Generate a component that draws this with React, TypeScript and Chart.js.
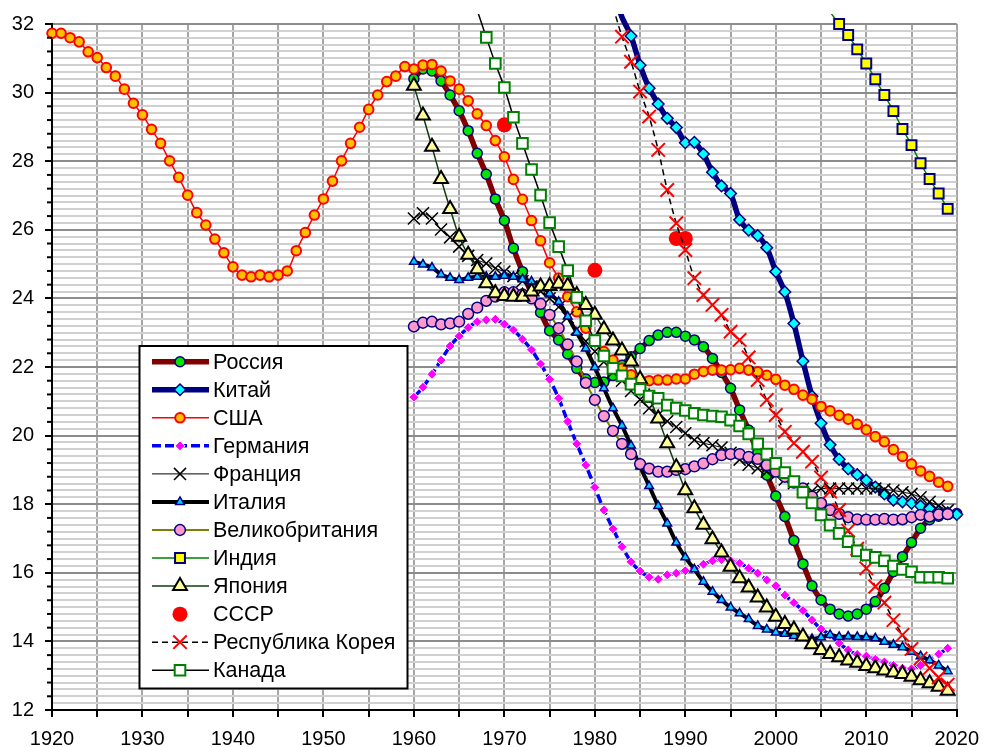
import React, { useEffect, useRef } from 'react';
import { Chart, registerables } from 'chart.js';
import { drawPoint } from 'chart.js/helpers';

Chart.register(...registerables);

// ---------------- data ----------------
const usaStart = 1920;
const usa = [
  31.73, 31.73, 31.6, 31.48, 31.19, 31.02, 30.73, 30.48, 30.1, 29.69,
  29.35, 28.93, 28.52, 28.01, 27.53, 27.01, 26.5, 26.14, 25.73, 25.33,
  24.92, 24.68, 24.63, 24.68, 24.63, 24.68, 24.8, 25.39, 25.92, 26.43,
  26.9, 27.42, 28.01, 28.52, 28.99, 29.51, 29.93, 30.32, 30.48, 30.76,
  30.69, 30.8, 30.82, 30.63, 30.34, 30.1, 29.76, 29.38, 29.04, 28.6,
  28.13, 27.47, 26.89, 26.27, 25.68, 25.04, 24.59, 24.05, 23.61, 23.13,
  22.75, 22.45, 22.2, 21.96, 21.77, 21.62, 21.6, 21.62, 21.62, 21.65,
  21.65, 21.79, 21.87, 21.91, 21.91, 21.92, 21.96, 21.91, 21.86, 21.76,
  21.64, 21.47, 21.35, 21.18, 21.06, 20.85, 20.72, 20.59, 20.48, 20.33,
  20.17, 19.97, 19.82, 19.59, 19.39, 19.17, 18.97, 18.81, 18.64, 18.52,
];

const russiaStart = 1960;
const russia = [
  30.4, 30.69, 30.63, 30.34, 29.93, 29.47, 28.89, 28.23, 27.62, 26.9,
  26.27, 25.46, 24.78, 24.15, 23.59, 23.06, 22.79, 22.38, 21.96, 21.65,
  21.55, 21.56, 21.75, 22.05, 22.3, 22.54, 22.77, 22.93, 23.01, 23.01,
  22.9, 22.79, 22.59, 22.25, 21.84, 21.38, 20.75, 20.16, 19.5, 18.85,
  18.24, 17.64, 16.94, 16.26, 15.62, 15.21, 14.94, 14.8, 14.74, 14.8,
  14.94, 15.16, 15.55, 16.03, 16.47, 16.88, 17.3, 17.55, 17.65, 17.7,
  17.73,
];

const chinaStart = 1982;
const china = [
  33.0, 32.2, 31.65, 30.8, 30.13, 29.67, 29.25, 28.98,
  28.54, 28.55, 28.21, 27.68, 27.28, 27.06, 26.29, 25.99, 25.83, 25.48,
  24.78, 24.19, 23.27, 22.17, 21.15, 20.36, 19.73, 19.31, 19.03, 18.86,
  18.7, 18.5, 18.3, 18.12, 18.07, 18.03, 17.95, 17.87, 17.8, 17.75,
  17.7,
];

const germanyStart = 1960;
const germany = [
  21.12, 21.41, 21.79, 22.2, 22.61, 22.9, 23.15, 23.32, 23.37, 23.39,
  23.25, 23.08, 22.81, 22.5, 22.09, 21.64, 21.09, 20.41, 19.76, 19.14,
  18.49, 17.83, 17.28, 16.76, 16.32, 16.05, 15.87, 15.81, 15.94, 15.99,
  16.06, 16.13, 16.25, 16.35, 16.39, 16.35, 16.28, 16.13, 15.99, 15.79,
  15.62, 15.35, 15.13, 14.9, 14.62, 14.36, 14.19, 13.95, 13.75, 13.62,
  13.57, 13.48, 13.4, 13.3, 13.22, 13.2, 13.3, 13.45, 13.63, 13.8,
];

const franceStart = 1960;
const france = [
  26.33, 26.48, 26.33, 26.01, 25.78, 25.51, 25.24, 25.12, 25.02, 24.88,
  24.78, 24.65, 24.5, 24.35, 24.2, 24.0, 23.75, 23.45, 23.1, 22.75,
  22.45, 22.15, 21.85, 21.6, 21.3, 21.05, 20.8, 20.6, 20.42, 20.25,
  20.07, 19.87, 19.78, 19.72, 19.65, 19.5, 19.3, 19.15, 19.05, 18.95,
  18.85, 18.72, 18.61, 18.45, 18.38, 18.45, 18.46, 18.46, 18.46, 18.46,
  18.46, 18.46, 18.43, 18.4, 18.35, 18.3, 18.2, 18.07, 17.95, 17.82,
];

const italyStart = 1960;
const italy = [
  25.07, 24.99, 24.9, 24.7, 24.6, 24.54, 24.6, 24.63, 24.63, 24.63,
  24.66, 24.63, 24.56, 24.49, 24.39, 24.14, 23.9, 23.47, 23.0, 22.54,
  21.99, 21.38, 20.8, 20.29, 19.71, 19.1, 18.53, 17.95, 17.44, 16.88,
  16.45, 16.1, 15.74, 15.45, 15.21, 14.99, 14.82, 14.65, 14.45, 14.35,
  14.26, 14.22, 14.16, 14.12, 14.07, 14.12, 14.19, 14.13, 14.14, 14.13,
  14.12, 14.09, 13.99, 13.9, 13.83, 13.7, 13.57, 13.45, 13.3, 13.13,
];

const ukStart = 1960;
const uk = [
  23.18, 23.29, 23.32, 23.24, 23.27, 23.32, 23.55, 23.73, 23.93, 24.05,
  24.18, 24.18, 24.12, 24.0, 23.84, 23.52, 23.13, 22.66, 22.16, 21.54,
  21.04, 20.57, 20.14, 19.76, 19.46, 19.17, 19.04, 18.95, 18.95, 19.0,
  19.02, 19.1, 19.19, 19.31, 19.43, 19.46, 19.46, 19.38, 19.32, 19.14,
  18.95, 18.8, 18.63, 18.46, 18.22, 18.03, 17.83, 17.72, 17.62, 17.56,
  17.55, 17.55, 17.57, 17.55, 17.56, 17.62, 17.69, 17.64, 17.7, 17.71,
];

const indiaStart = 2005;
const india = [
  32.7, 32.35, 32.0, 31.68, 31.26, 30.85, 30.39, 29.93, 29.46, 28.94,
  28.47, 27.94, 27.48, 27.06, 26.61,
];

const japanStart = 1960;
const japan = [
  30.2, 29.33, 28.42, 27.48, 26.61, 25.8, 25.27, 24.85, 24.44, 24.15,
  24.07, 24.05, 24.05, 24.2, 24.35, 24.36, 24.43, 24.37, 24.1, 23.81,
  23.52, 23.1, 22.77, 22.48, 22.16, 21.64, 21.1, 20.5, 19.78, 19.08,
  18.41, 17.88, 17.4, 16.98, 16.59, 16.18, 15.84, 15.57, 15.28, 14.99,
  14.72, 14.51, 14.35, 14.14, 13.92, 13.75, 13.63, 13.54, 13.44, 13.38,
  13.28, 13.22, 13.15, 13.09, 13.05, 12.97, 12.87, 12.78, 12.68, 12.56,
];

const ussrYears = [1970, 1980, 1989, 1990];
const ussr = [29.06, 24.82, 25.75, 25.75];

const koreaStart = 1982;
const korea = [
  32.5, 31.63, 30.9, 30.03, 29.3, 28.33, 27.16, 26.19, 25.41, 24.59,
  24.1, 23.81, 23.52, 23.03, 22.79, 22.28, 21.62, 21.04, 20.6, 20.11,
  19.78, 19.53, 19.24, 18.78, 18.37, 17.83, 17.23, 16.7, 16.13, 15.6,
  15.13, 14.62, 14.19, 13.78, 13.5, 13.22, 12.95, 12.74,
];

const canadaStart = 1966;
const canada = [
  33.2, 32.4, 31.61, 30.85, 30.15, 29.28, 28.52, 27.76, 27.01, 26.21,
  25.51, 24.81, 24.03, 23.35, 22.77, 22.32, 21.96, 21.74, 21.5, 21.35,
  21.15, 21.09, 20.89, 20.8, 20.73, 20.65, 20.6, 20.57, 20.55, 20.45,
  20.28, 20.05, 19.76, 19.46, 19.19, 18.92, 18.66, 18.35, 18.04, 17.69,
  17.39, 17.15, 16.91, 16.64, 16.52, 16.45, 16.35, 16.2, 16.1, 16.03,
  15.87, 15.87, 15.87, 15.84,
];

const xMin = 1920;
const xMax = 2020;
const yMin = 12;
const yMax = 32;

// ---------------- helpers ----------------
const seq = (start: number, vals: number[]) => vals.map((v, i) => ({ x: start + i, y: v }));
const pairs = (xs: number[], vals: number[]) => vals.map((v, i) => ({ x: xs[i], y: v }));

type Series = {
  label: string;
  data: { x: number; y: number }[];
  line: string;
  lw: number;
  dash?: number[];
  style: string;
  r: number;
  fill: string;
  stroke: string;
  bw: number;
  noLine?: boolean;
};

const FONT = '"Liberation Sans", Arial, sans-serif';

const series: Series[] = [
  { label: 'Россия', data: seq(russiaStart, russia), line: '#800000', lw: 5.5, style: 'circle', r: 5, fill: '#00e600', stroke: '#000080', bw: 1.5 },
  { label: 'Китай', data: seq(chinaStart, china), line: '#000080', lw: 5.5, style: 'rectRot', r: 5.8, fill: '#00ffff', stroke: '#000080', bw: 1.5 },
  { label: 'США', data: seq(usaStart, usa), line: '#ff0000', lw: 1.5, style: 'circle', r: 4.8, fill: '#ffc000', stroke: '#ff0000', bw: 2 },
  { label: 'Германия', data: seq(germanyStart, germany), line: '#0000ff', lw: 3.5, dash: [9, 4], style: 'rectRot', r: 5, fill: '#ff00ff', stroke: '#ffffff', bw: 1 },
  { label: 'Франция', data: seq(franceStart, france), line: '#000000', lw: 1, style: 'crossRot', r: 8.5, fill: '#000000', stroke: '#000000', bw: 1.5 },
  { label: 'Италия', data: seq(italyStart, italy), line: '#000000', lw: 4, style: 'triangle', r: 5, fill: '#00ccff', stroke: '#000080', bw: 1.5 },
  { label: 'Великобритания', data: seq(ukStart, uk), line: '#808000', lw: 2, style: 'circle', r: 5.4, fill: '#ff99cc', stroke: '#000080', bw: 1.5 },
  { label: 'Индия', data: seq(indiaStart, india), line: '#008000', lw: 1.5, style: 'rect', r: 7, fill: '#ffff00', stroke: '#000080', bw: 2 },
  { label: 'Япония', data: seq(japanStart, japan), line: '#0d3d0d', lw: 1.5, style: 'triangle', r: 8, fill: '#ffff99', stroke: '#000000', bw: 2 },
  { label: 'СССР', data: pairs(ussrYears, ussr), line: '#ff0000', lw: 0, style: 'circle', r: 7.5, fill: '#ff0000', stroke: '#ff0000', bw: 0, noLine: true },
  { label: 'Республика Корея', data: seq(koreaStart, korea), line: '#000000', lw: 1.5, dash: [6, 4], style: 'crossRot', r: 9.5, fill: '#ff0000', stroke: '#ff0000', bw: 2 },
  { label: 'Канада', data: seq(canadaStart, canada), line: '#000000', lw: 1.5, style: 'rect', r: 7.5, fill: '#ffffff', stroke: '#008000', bw: 2 },
];

const isMult = (v: number, step: number) => Math.abs(v / step - Math.round(v / step)) < 1e-6;

// legend box (pixels)
const LEG = { left: 139.5, top: 346, right: 407.5, bottom: 688.5, row0: 361.7, step: 28.05, lineL: 152, lineR: 209, mark: 180, text: 213 };

const legendPlugin = {
  id: 'boxLegend',
  afterDraw(chart: any) {
    const ctx: CanvasRenderingContext2D = chart.ctx;
    ctx.save();
    ctx.fillStyle = '#ffffff';
    ctx.fillRect(LEG.left, LEG.top, LEG.right - LEG.left, LEG.bottom - LEG.top);
    ctx.strokeStyle = '#000000';
    ctx.lineWidth = 2;
    ctx.strokeRect(LEG.left, LEG.top, LEG.right - LEG.left, LEG.bottom - LEG.top);
    series.forEach((s, i) => {
      const y = LEG.row0 + i * LEG.step;
      if (!s.noLine) {
        ctx.setLineDash(s.dash || []);
        ctx.strokeStyle = s.line;
        ctx.lineWidth = s.lw;
        ctx.beginPath();
        ctx.moveTo(LEG.lineL, y);
        ctx.lineTo(LEG.lineR, y);
        ctx.stroke();
      }
      ctx.setLineDash([]);
      ctx.fillStyle = s.fill;
      ctx.strokeStyle = s.stroke;
      ctx.lineWidth = s.bw;
      drawPoint(ctx, { pointStyle: s.style as any, rotation: 0, radius: s.r, borderWidth: s.bw } as any, LEG.mark, y);
      ctx.fillStyle = '#000000';
      ctx.font = `21.5px ${FONT}`;
      ctx.textBaseline = 'middle';
      ctx.textAlign = 'left';
      ctx.fillText(s.label, LEG.text, y + 1);
    });
    ctx.restore();
  },
};

const minorTickPlugin = {
  id: 'minorTicks',
  afterDraw(chart: any) {
    const sc = chart.scales.y;
    const ctx: CanvasRenderingContext2D = chart.ctx;
    ctx.save();
    ctx.strokeStyle = '#000000';
    ctx.lineWidth = 2;
    for (let k = 0; k <= 50; k++) {
      const v = yMin + k * 0.4;
      if (isMult(v, 2)) continue;
      const py = sc.getPixelForValue(v);
      ctx.beginPath();
      ctx.moveTo(sc.right - 5, py);
      ctx.lineTo(sc.right, py);
      ctx.stroke();
    }
    ctx.restore();
  },
};

export default function App() {
  const ref = useRef<HTMLCanvasElement | null>(null);
  useEffect(() => {
    document.body.style.margin = '0';
    const canvas = ref.current;
    if (!canvas) return;
    const N = series.length;
    const datasets = series.map((s, i) => ({
      label: s.label,
      data: s.data,
      borderColor: s.line,
      backgroundColor: s.fill,
      borderWidth: s.lw,
      borderDash: s.dash || [],
      showLine: !s.noLine,
      pointStyle: s.style,
      pointRadius: (c: any) => (c.raw && c.raw.y > yMax + 0.001 ? 0 : s.r),
      pointHoverRadius: s.r,
      pointBackgroundColor: s.fill,
      pointBorderColor: s.stroke,
      pointBorderWidth: s.bw,
      tension: 0.25,
      fill: false,
      clip: { left: 12, top: 10, right: 12, bottom: 12 },
      order: N - i,
    }));
    const chart = new Chart(canvas, {
      type: 'line',
      data: { datasets } as any,
      options: {
        animation: false,
        responsive: false,
        maintainAspectRatio: false,
        devicePixelRatio: 1,
        events: [],
        layout: { padding: { left: 0, top: 24, right: 26, bottom: 0 } },
        plugins: { legend: { display: false }, tooltip: { enabled: false } },
        scales: {
          x: {
            type: 'linear',
            min: xMin,
            max: xMax,
            afterFit: (s: any) => { s.height = 37; },
            ticks: {
              stepSize: 5,
              autoSkip: false,
              maxRotation: 0,
              padding: 10,
              color: '#000000',
              font: { family: FONT, size: 20 },
              callback: (v: any) => (isMult(Number(v), 10) ? String(v) : ''),
            },
            grid: {
              color: '#a6a6a6',
              lineWidth: 2,
              tickLength: 7,
              tickColor: '#000000',
              tickWidth: 2,
            },
            border: { color: '#000000', width: 2 },
          },
          y: {
            type: 'linear',
            min: yMin,
            max: yMax,
            afterFit: (s: any) => { s.width = 52; },
            ticks: {
              stepSize: 0.2,
              autoSkip: false,
              padding: 11,
              color: '#000000',
              font: { family: FONT, size: 20 },
              callback: (v: any) => (isMult(Number(v), 2) ? String(Math.round(Number(v))) : ''),
            },
            grid: {
              color: (c: any) => (c.tick && isMult(c.tick.value, 2) ? '#8c8c8c' : '#d0d0d0'),
              lineWidth: 2,
              tickLength: 7,
              tickColor: (c: any) => (c.tick && isMult(c.tick.value, 2) ? '#000000' : 'rgba(0,0,0,0)'),
              tickWidth: 2,
            },
            border: { color: '#000000', width: 2 },
          },
        },
      } as any,
      plugins: [minorTickPlugin, legendPlugin],
    });
    return () => chart.destroy();
  }, []);
  return (
    <div style={{ width: 989, height: 747 }}>
      <canvas ref={ref} width={989} height={747} style={{ display: 'block' }} />
    </div>
  );
}
